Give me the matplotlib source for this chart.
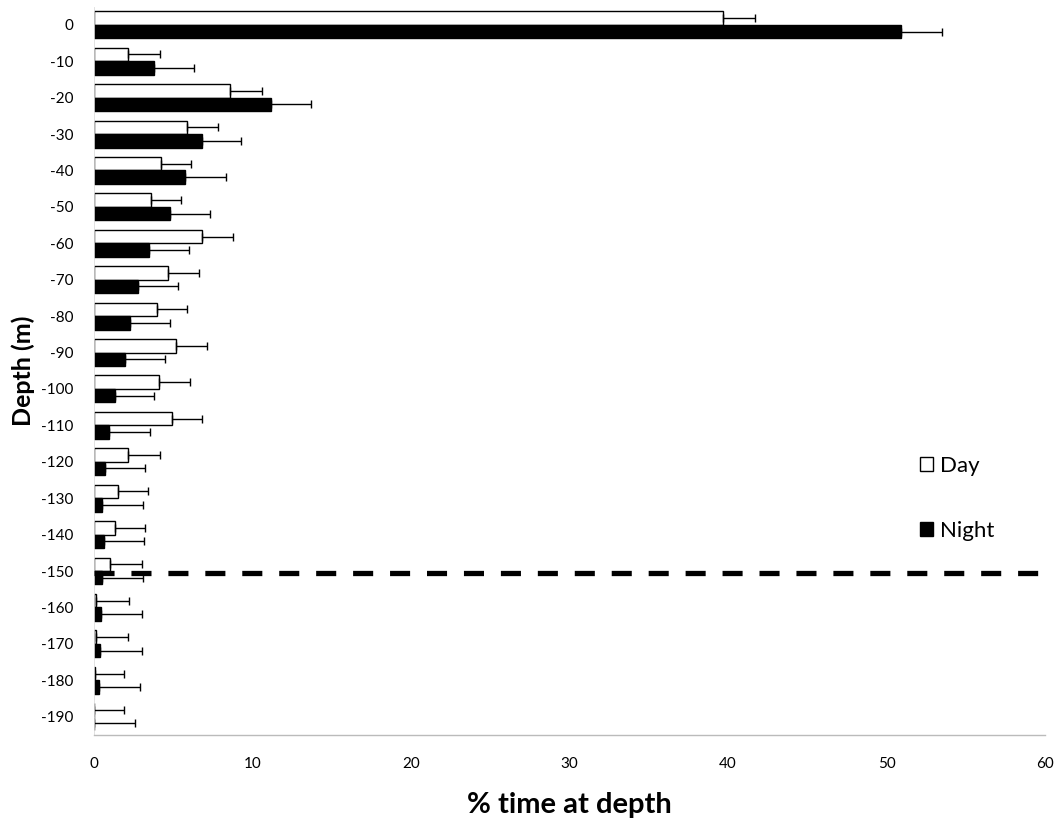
import matplotlib
matplotlib.use("Agg")
import matplotlib.pyplot as plt
import numpy as np

depths = ["0", "-10", "-20", "-30", "-40", "-50", "-60", "-70", "-80", "-90",
          "-100", "-110", "-120", "-130", "-140", "-150", "-160", "-170", "-180", "-190"]
day = [39.7, 2.15, 8.6, 5.85, 4.2, 3.6, 6.8, 4.65, 4.0, 5.15,
       4.1, 4.9, 2.17, 1.5, 1.3, 1.0, 0.15, 0.12, 0.06, 0.0]
day_err = [2.0, 2.0, 2.0, 1.95, 1.9, 1.9, 2.0, 1.95, 1.9, 2.0,
           1.95, 1.9, 2.0, 1.9, 1.95, 2.0, 2.05, 2.0, 1.85, 1.9]
night = [50.9, 3.8, 11.2, 6.8, 5.75, 4.8, 3.5, 2.75, 2.3, 1.95,
         1.3, 0.96, 0.69, 0.52, 0.63, 0.5, 0.45, 0.4, 0.33, 0.0]
night_err = [2.6, 2.5, 2.5, 2.5, 2.55, 2.5, 2.5, 2.55, 2.5, 2.55,
             2.5, 2.55, 2.5, 2.6, 2.5, 2.6, 2.6, 2.6, 2.55, 2.6]
threshold_depth = -150.5

plt.rcParams['font.family'] = ['Lato', 'DejaVu Sans']

fig = plt.figure(figsize=(10.58, 8.22), dpi=100)
ax = fig.add_axes([0.0888, 0.106, 0.899, 0.886])

y = np.arange(len(depths))
h = 0.37
err_kw = dict(ecolor='black', elinewidth=1.0, capsize=3, capthick=1.0)
ax.barh(y - h / 2, day, height=h, color='white', edgecolor='black', linewidth=1.0,
        xerr=[np.zeros(len(day)), day_err], error_kw=err_kw, label='Day')
ax.barh(y + h / 2, night, height=h, color='black', edgecolor='black', linewidth=1.0,
        xerr=[np.zeros(len(night)), night_err], error_kw=err_kw, label='Night')

# dashed threshold line at -150.5 m (in category units)
thr_pos = (0 - threshold_depth) / 10.0
ax.plot([0, 60], [thr_pos, thr_pos], color='black', lw=3.8, ls=(0, (3.8, 3.2)), zorder=5)

ax.set_xlim(0, 60)
ax.set_ylim(len(depths) - 0.5, -0.5)
ax.set_yticks(y)
ax.set_yticklabels(depths)
ax.set_xticks(np.arange(0, 61, 10))
ax.tick_params(axis='both', length=0, labelsize=11)
ax.tick_params(axis='y', pad=15)
ax.tick_params(axis='x', pad=16)

for s in ['top', 'right']:
    ax.spines[s].set_visible(False)
ax.spines['bottom'].set_color('#bbbbbb')
ax.spines['left'].set_color('#dddddd')
ax.spines['bottom'].set_linewidth(1.0)
ax.spines['left'].set_linewidth(0.6)

ax.set_ylabel('Depth (m)', fontsize=18, fontweight='bold', labelpad=4)
ax.set_xlabel('% time at depth', fontsize=21, fontweight='bold', labelpad=15)

ax.legend(loc='upper left', bbox_to_anchor=(0.847, 0.41), frameon=False,
          fontsize=16, handlelength=0.6, handleheight=0.6, handletextpad=0.3,
          labelspacing=2.0)

fig.savefig('out.png', dpi=100)
